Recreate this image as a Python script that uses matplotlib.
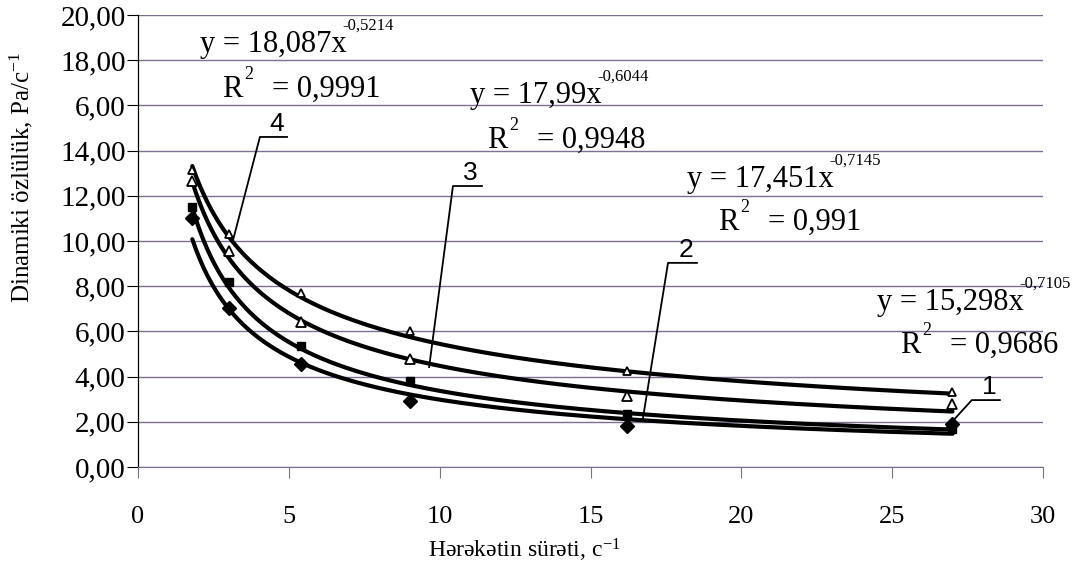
import matplotlib
matplotlib.use("Agg")
import matplotlib.pyplot as plt
import numpy as np

plt.rcParams['font.family'] = ['Liberation Serif', 'DejaVu Serif']
plt.rcParams['mathtext.fontset'] = 'custom'
plt.rcParams['mathtext.rm'] = 'Liberation Serif'
plt.rcParams['mathtext.it'] = 'Liberation Serif:italic'

# shear rates, c^-1
x = [1.8, 3.0, 5.4, 9.0, 16.2, 27.0]

# measured viscosity, series 1..4
s1 = [11.00, 7.02, 4.55, 2.93, 1.82, 1.90]
s2 = [11.48, 8.17, 5.36, 3.81, 2.34, 1.68]
s3 = [12.64, 9.55, 6.40, 4.77, 3.12, 2.78]
s4 = [13.16, 10.29, 7.68, 6.02, 4.25, 3.31]

# power trendlines y = a * x^b (from the chart annotations)
coef_a = [15.298, 17.451, 17.99, 18.087]
coef_b = [-0.7105, -0.7145, -0.6044, -0.5214]
a_txt = ['15,298', '17,451', '17,99', '18,087']
b_txt = ['-0,7105', '-0,7145', '-0,6044', '-0,5214']
r2_txt = ['0,9686', '0,991', '0,9948', '0,9991']

yticks = [0, 2, 4, 6, 8, 10, 12, 14, 16, 18, 20]
ytick_labels = ['0,00', '2,00', '4,00', '6,00', '8,00', '10,00', '12,00',
                '14,00', '6,00', '18,00', '20,00']
xticks = [0, 5, 10, 15, 20, 25, 30]

fig = plt.figure(figsize=(10.86, 5.73), dpi=100)
ax = fig.add_axes([0.1271, 0.185, 0.8333, 0.789])
ax.set_xlim(0, 30)
ax.set_ylim(0, 20)

for yv in yticks:
    ax.axhline(yv, color='#7d6f92', lw=1.0, zorder=1)

xx = np.linspace(1.8, 27.0, 200)
for a, b in zip(coef_a, coef_b):
    ax.plot(xx, a * xx ** b, color='black', lw=3, zorder=3,
            solid_capstyle='round')

ax.plot(x, s1, ls='none', marker='D', ms=7, color='black', zorder=4)
ax.plot(x, s2, ls='none', marker='s', ms=6, color='black', zorder=4)
ax.plot(x, s3, ls='none', marker='^', ms=7, mfc='white', mec='black', mew=1.3, zorder=4)
ax.plot(x, s4, ls='none', marker='^', ms=6, mfc='white', mec='black', mew=1.3, zorder=4)

# equation labels: position of "y = ..." and of "R" (baselines)
eq_pos = [
    ((24.49, 6.95), (25.25, 5.04)),
    ((18.2, 12.39), (19.22, 10.49)),
    ((11.0, 16.1), (11.57, 14.12)),
    ((2.05, 18.36), (2.78, 16.37)),
]
for i, (pm, pr) in enumerate(eq_pos):
    tm = ax.text(pm[0], pm[1], 'y = ' + a_txt[i] + 'x', fontsize=22,
                 va='baseline', zorder=5)
    ax.annotate(b_txt[i], xy=(1, 0), xycoords=tm, xytext=(-4, 29),
                textcoords='offset pixels', fontsize=12, va='baseline',
                ha='left', zorder=5, annotation_clip=False)
    tr = ax.text(pr[0], pr[1], 'R', fontsize=22, va='baseline', zorder=5)
    ax.annotate('2', xy=(1, 1), xycoords=tr, xytext=(2, -4),
                textcoords='offset pixels', fontsize=13, va='baseline',
                ha='left', zorder=5)
    ax.annotate('= ' + r2_txt[i], xy=(1, 0), xycoords=tr, xytext=(30, 0),
                textcoords='offset pixels', fontsize=22, va='bottom',
                ha='left', zorder=5)

# curve numbers with leader lines: tip, corner, underline end
leaders = [
    ('1', (26.8, 1.73), (27.64, 2.96), (28.57, 2.96)),
    ('2', (16.74, 2.17), (17.57, 9.03), (18.53, 9.03)),
    ('3', (9.65, 4.42), (10.44, 12.43), (11.4, 12.43)),
    ('4', (3.15, 10.04), (4.04, 14.6), (4.94, 14.6)),
]
for lab, tip, corner, end in leaders:
    ax.plot([tip[0], corner[0], end[0]], [tip[1], corner[1], end[1]],
            color='black', lw=1.3, zorder=5, clip_on=False)
    ax.text((corner[0] + end[0]) / 2 + 0.1, corner[1] + 0.05, lab,
            family=['Liberation Sans', 'DejaVu Sans'], fontsize=19,
            ha='center', va='bottom', zorder=5)

ax.set_yticks(yticks)
ax.set_yticklabels(ytick_labels, fontsize=21)
ax.set_xticks(xticks)
ax.set_xticklabels([str(v) for v in xticks], fontsize=19)
ax.tick_params(axis='y', direction='out', length=8, width=0.8, pad=1)
ax.tick_params(axis='x', direction='out', length=8, width=0.8, pad=20, color='#777777')

for s in ['top', 'right']:
    ax.spines[s].set_visible(False)
ax.spines['left'].set_linewidth(0.9)
ax.spines['bottom'].set_color('#7d6f92')

ax.set_xlabel('Hərəkətin sürəti, c$^{-1}$', fontsize=17)
ax.xaxis.set_label_coords(0.4265, -0.155)
ax.set_ylabel('Dinamiki özlülük, Pa/c$^{-1}$', fontsize=18)
ax.yaxis.set_label_coords(-0.114, 0.64)

fig.savefig('out.png', dpi=100)
plt.close(fig)
